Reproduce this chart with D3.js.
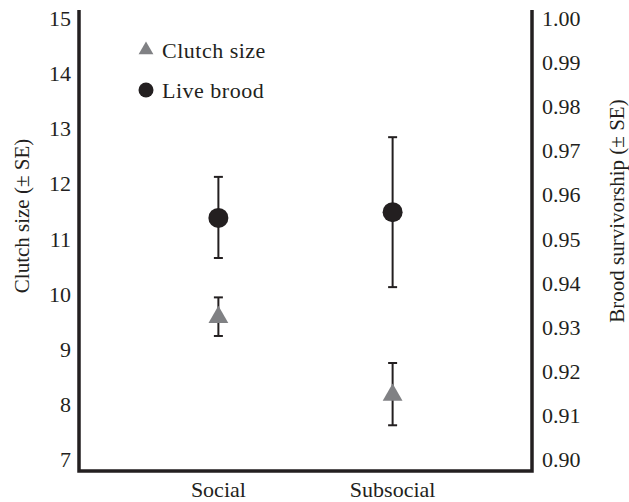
<!DOCTYPE html>
<html>
<head>
<meta charset="utf-8">
<script src="https://cdn.jsdelivr.net/npm/d3@7"></script>
<style>
  body { margin: 0; background: #fff; font-family: "Liberation Serif", serif; }
</style>
</head>
<body>
<div id="chart"></div>
<script>
// Data
var groups = ['Social', 'Subsocial'];
var clutchMean = [9.59, 8.18];
var clutchLow = [9.25, 7.63];
var clutchHigh = [9.95, 8.76];
var broodMean = [0.9549, 0.9562];
var broodLow = [0.9458, 0.9392];
var broodHigh = [0.9642, 0.9732];
var leftTicks = [7, 8, 9, 10, 11, 12, 13, 14, 15];
var rightTicks = [0.90, 0.91, 0.92, 0.93, 0.94, 0.95, 0.96, 0.97, 0.98, 0.99, 1.00];

var chartW = 629, chartH = 502;
var plotLeft = 79, plotRight = 532, plotTop = 10, plotBottom = 471;
var ink = '#231f20';
var face = 'Liberation Serif';

var svg = d3.select('#chart').append('svg')
    .attr('width', chartW)
    .attr('height', chartH);

// Scales
var x = d3.scalePoint().domain(groups).range([plotLeft, plotRight]).padding(0.8);
var yL = d3.scaleLinear().domain([7, 15]).range([460, 19]);
var yR = d3.scaleLinear().domain([0.90, 1.00]).range([460, 19]);

// Tick labels, drawn as plain text from the scales
svg.selectAll('.ltick')
    .data(leftTicks)
    .enter()
    .append('text')
    .attr('class', 'ltick')
    .attr('x', plotLeft - 8)
    .attr('y', function(d) { return yL(d); })
    .attr('dy', '0.32em')
    .attr('text-anchor', 'end')
    .style('font-size', '22px')
    .text(d3.format('d'));
svg.selectAll('.rtick')
    .data(rightTicks)
    .enter()
    .append('text')
    .attr('class', 'rtick')
    .attr('x', plotRight + 10)
    .attr('y', function(d) { return yR(d); })
    .attr('dy', '0.32em')
    .style('font-size', '22px')
    .text(d3.format('.2f'));
svg.selectAll('.xtick')
    .data(groups)
    .enter()
    .append('text')
    .attr('class', 'xtick')
    .attr('x', function(d) { return x(d); })
    .attr('y', plotBottom + 26)
    .attr('text-anchor', 'middle')
    .style('font-size', '22px')
    .text(function(d) { return d; });

// Frame lines
svg.append('path')
    .attr('d', 'M' + plotLeft + ',' + plotTop + 'V' + plotBottom + 'H' + plotRight + 'V' + plotTop)
    .attr('fill', 'none')
    .attr('stroke', ink)
    .attr('stroke-width', 3.5);

// Axis titles
svg.append('text')
    .attr('transform', 'translate(22,216) rotate(-90)')
    .attr('text-anchor', 'middle')
    .attr('dy', '0.35em')
    .style('font-size', '21px')
    .text('Clutch size (± SE)');
svg.append('text')
    .attr('transform', 'translate(617,211) rotate(-90)')
    .attr('text-anchor', 'middle')
    .attr('dy', '0.35em')
    .style('font-size', '21px')
    .text('Brood survivorship (± SE)');

// Error bars
function errorBars(lo, hi, scale) {
    var g = svg.append('g').attr('stroke', ink).attr('stroke-width', 2);
    groups.forEach(function(d, i) {
        var cx = x(d);
        g.append('line').attr('x1', cx).attr('x2', cx)
            .attr('y1', scale(lo[i])).attr('y2', scale(hi[i]));
        g.append('line').attr('x1', cx - 4.5).attr('x2', cx + 4.5)
            .attr('y1', scale(lo[i])).attr('y2', scale(lo[i]));
        g.append('line').attr('x1', cx - 4.5).attr('x2', cx + 4.5)
            .attr('y1', scale(hi[i])).attr('y2', scale(hi[i]));
    });
}
errorBars(clutchLow, clutchHigh, yL);
errorBars(broodLow, broodHigh, yR);

// Markers
var tri = d3.symbol().type(d3.symbolTriangle).size(170);
svg.selectAll('.clutch')
    .data(groups)
    .enter()
    .append('path')
    .attr('class', 'clutch')
    .attr('d', tri)
    .attr('transform', function(d, i) { return 'translate(' + x(d) + ',' + yL(clutchMean[i]) + ')'; })
    .attr('fill', '#808184');

svg.selectAll('.brood')
    .data(groups)
    .enter()
    .append('circle')
    .attr('class', 'brood')
    .attr('cx', function(d) { return x(d); })
    .attr('cy', function(d, i) { return yR(broodMean[i]); })
    .attr('r', 10)
    .attr('fill', ink);

// Legend
svg.append('path')
    .attr('d', d3.symbol().type(d3.symbolTriangle).size(95))
    .attr('transform', 'translate(146,50)')
    .attr('fill', '#808184');
svg.append('text').attr('x', 162).attr('y', 58)
    .style('font-size', '22px').style('letter-spacing', '0.5px')
    .text('Clutch size');
svg.append('circle').attr('cx', 146).attr('cy', 90).attr('r', 7.5).attr('fill', ink);
svg.append('text').attr('x', 162).attr('y', 98)
    .style('font-size', '22px').style('letter-spacing', '0.5px')
    .text('Live brood');

// same face and colour on every label
svg.selectAll('text').attr('fill', ink).style('font-family', face);
</script>
</body>
</html>
